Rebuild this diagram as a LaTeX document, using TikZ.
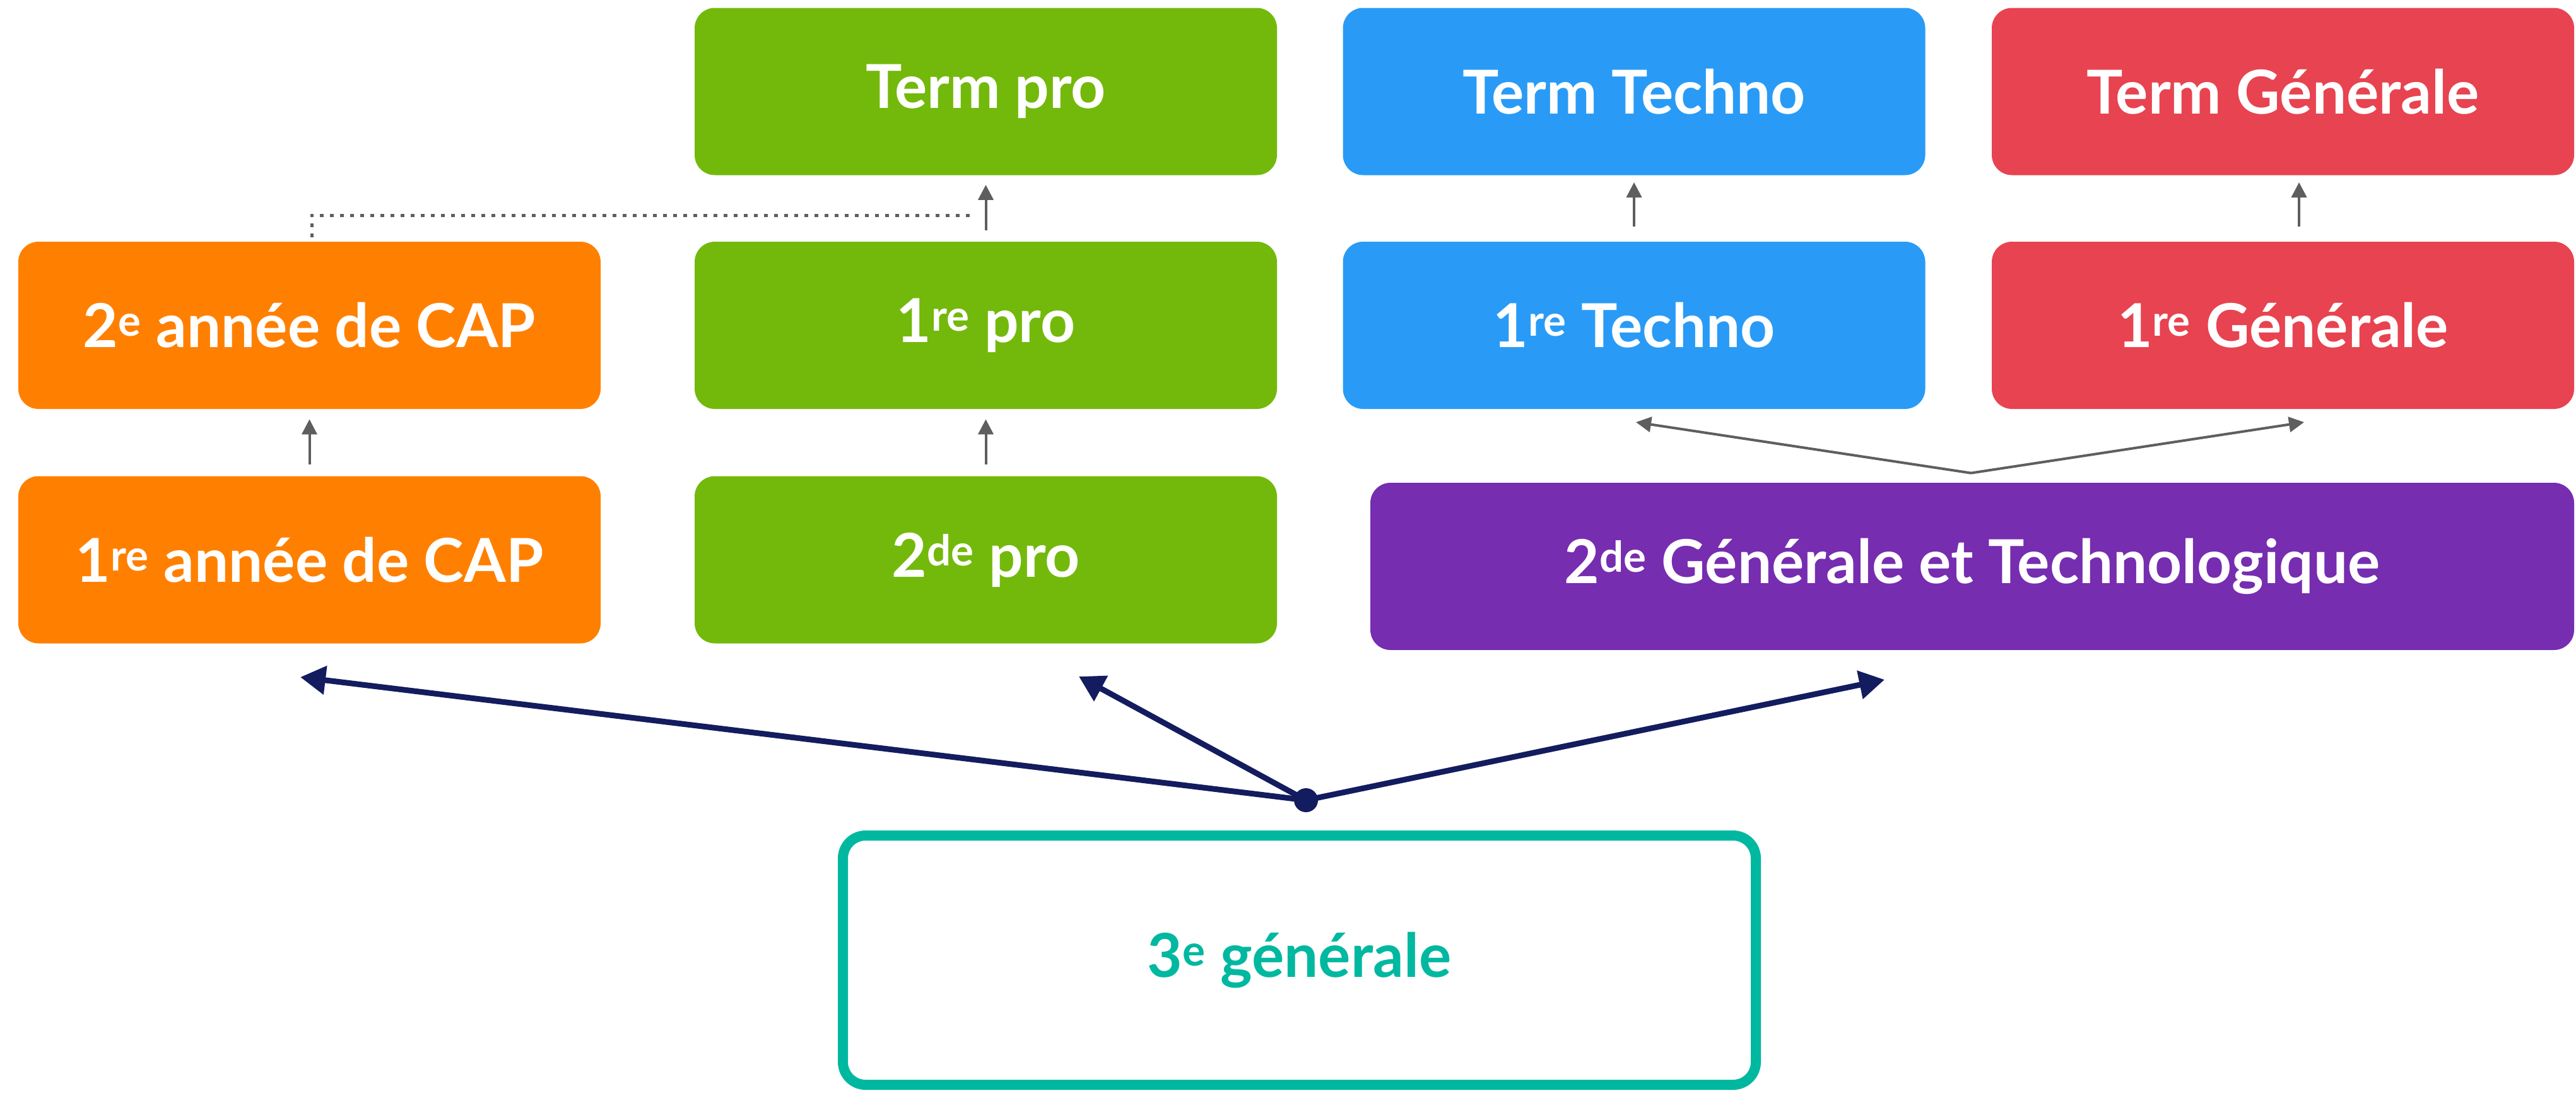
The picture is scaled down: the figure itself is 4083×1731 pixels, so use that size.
\documentclass[tikz,border=0pt]{standalone}
\usepackage{fontspec}
\setmainfont{Lato}
\usetikzlibrary{arrows.meta,calc}
\definecolor{cOrange}{RGB}{255,128,0}
\definecolor{cGreen}{RGB}{115,185,11}
\definecolor{cBlue}{RGB}{41,155,246}
\definecolor{cRed}{RGB}{232,67,80}
\definecolor{cPurple}{RGB}{118,45,176}
\definecolor{cTeal}{RGB}{0,184,160}
\definecolor{cNavy}{RGB}{19,28,94}
\definecolor{cGray}{RGB}{94,94,94}
\newcommand\sptx[1]{\textsuperscript{#1}}
\begin{document}
\begin{tikzpicture}[x=0.5pt,y=-0.5pt,
  box/.style={rounded corners=16pt, minimum width=461.5pt, minimum height=132.5pt,
    text=white, font=\fontsize{48}{57}\selectfont\bfseries, inner sep=0pt},
  garrow/.style={draw=cGray, line width=2pt, -{Triangle[length=12pt,width=12pt]}},
  narrow/.style={draw=cNavy, line width=4.5pt, -{Triangle[length=20pt,width=22pt]}},
  dotline/.style={draw=cGray, line width=2.5pt, dash pattern=on 3pt off 5pt}
]
\useasboundingbox (0,0) rectangle (4083,1731);
% column 1
\node[box, fill=cOrange] (cap2) at (490.5,515.5) {2\sptx{e} année de CAP};
\node[box, fill=cOrange] (cap1) at (490.5,887) {1\sptx{re} année de CAP};
% column 2
\node[box, fill=cGreen] (tpro) at (1562.5,145) {Term pro};
\node[box, fill=cGreen] (ppro) at (1562.5,515.5) {1\sptx{re} pro};
\node[box, fill=cGreen] (spro) at (1562.5,887) {2\sptx{de} pro};
% column 3
\node[box, fill=cBlue] (ttech) at (2590,145) {Term Techno};
\node[box, fill=cBlue] (ptech) at (2590,515.5) {1\sptx{re} Techno};
% column 4
\node[box, fill=cRed] (tgen) at (3618.5,145) {Term Générale};
\node[box, fill=cRed] (pgen) at (3618.5,515.5) {1\sptx{re} Générale};
% purple
\node[box, fill=cPurple, minimum width=954pt] (sgt) at (3126,897.5) {2\sptx{de} Générale et Technologique};
% 3e
\node[box, draw=cTeal, line width=8pt, fill=white, text=cTeal, rounded corners=18pt,
  minimum width=723.5pt, minimum height=197.5pt] (troi) at (2059.5,1521.5) {3\sptx{e} générale};

% gray arrows
\draw[garrow] ([yshift=9pt]cap1.north) -- ([yshift=-8pt]cap2.south);
\draw[garrow] ([yshift=9pt]spro.north) -- ([yshift=-8pt]ppro.south);
\draw[garrow] ([yshift=9pt]ppro.north) -- ([yshift=-7.5pt]tpro.south);
\draw[garrow] ([yshift=12pt]ptech.north) -- ([yshift=-5.5pt]ttech.south);
\draw[garrow] ([xshift=12.75pt,yshift=12pt]pgen.north) -- ([xshift=12.75pt,yshift=-5.5pt]tgen.south);
% dotted
\coordinate (dA) at ([xshift=1.75pt,yshift=3.5pt]cap2.north);
\coordinate (dB) at (1545,341);
\draw[dotline] (dA) |- (dB);
% fork
\coordinate (fk) at ([xshift=-1pt,yshift=7.5pt]sgt.north);
\coordinate (fL) at (2593,669);
\coordinate (fR) at (3652,669);
\draw[garrow] (fk) -- (fL);
\draw[garrow] (fk) -- (fR);
% navy
\coordinate (hub) at (2070,1268);
\coordinate (nL) at (476,1073);
\coordinate (nM) at (1710,1072);
\coordinate (nR) at (2987,1077);
\draw[narrow] (hub) -- (nL);
\draw[narrow] (hub) -- (nM);
\draw[narrow] (hub) -- (nR);
\fill[cNavy] (hub) circle (9.5pt);
\end{tikzpicture}
\end{document}
